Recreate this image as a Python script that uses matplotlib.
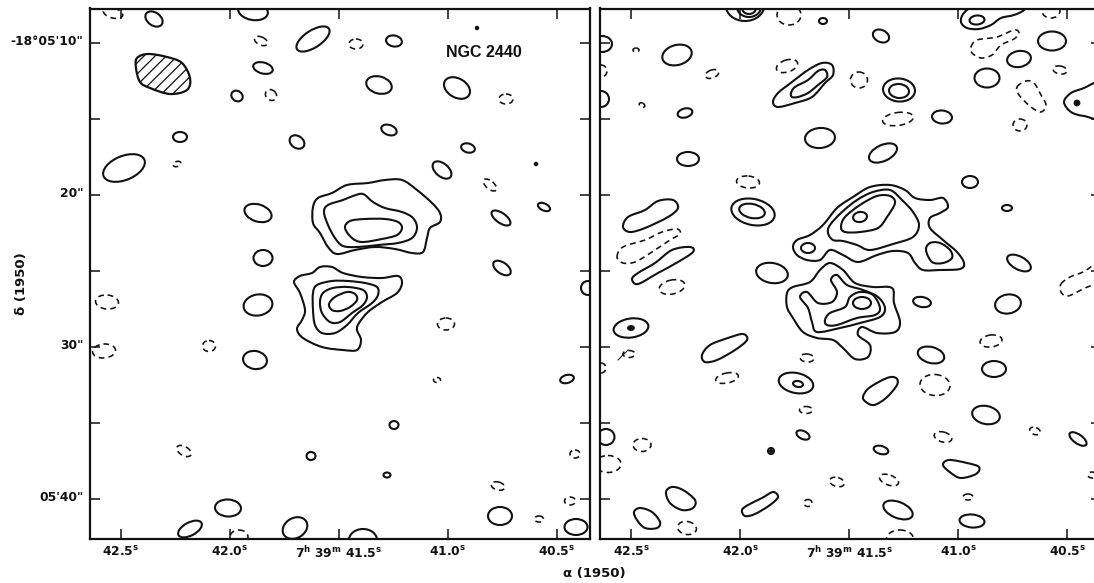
import numpy as np
import matplotlib
matplotlib.use("Agg")
import matplotlib.pyplot as plt
from matplotlib.path import Path
from matplotlib.patches import PathPatch
from matplotlib.transforms import Affine2D, ScaledTranslation

# Chart values: axis ticks
RA_TICKS = [42.5, 42.0, 41.5, 41.0, 40.5]
RA_LABELS = [r"42.5$^{\mathbf{s}}$", r"42.0$^{\mathbf{s}}$", r"7$^{\mathbf{h}}$ 39$^{\mathbf{m}}$ 41.5$^{\mathbf{s}}$",
             r"41.0$^{\mathbf{s}}$", r"40.5$^{\mathbf{s}}$"]
DEC_TICKS = [10, 15, 20, 25, 30, 35, 40]
DEC_LABELS = ['-18°05\'10"', '', '20"', '', '30"', '', '05\'40"']

L_SOLID = [(154,19,9.5,6.5,-35),(253,11,15,9,-10),(313,39,19,8.5,33),(263,68,10,5.5,-15),(237,96,6,5,-35),
           (180,137,7,5,0),(297,142,8,6,-35),(124,168,22,12,22),(258,213,14,8.5,-18),(263,258,9.5,8,0),
           (394,41,8,5.5,-10),(379,85,13,8.5,-15),(457,88,14,9.5,-30),(389,130,8,5,-20),(468,148,7,4.5,-15),
           (442,170,11,6.5,-40),(544,207,6.5,3.5,-25),(501,218,11,5,-35),(502,268,10,5.5,-35),(588,288,7,7,0),
           (258,305,14.5,10.5,10),(255,360,12,9,-10),(311,456,4.5,4,0),(228,508,13,8.5,-3),(190,529,13,6.5,28),
           (295,528,13,10,30),(567,379,7,4,15),(394,425,4.5,4,0),(387,475,3.5,2.5,0),(500,516,12,9,0),
           (576,527,11.5,8,0),(363,540,14,11,0),(536,164,1.2,1.2,0),(477,28,1.2,1.2,0)]
L_DASHED = [(113,13,10,5,-15),(261,41,7,4,-25),(271,95,6,5,-40),(177,164,4,2.5,20),(356,44,7,5,0),
            (506,99,7,5,0),(490,185,8,4,-40),(107,302,11.5,7,-5),(104,351,11.5,7,5),(209,346,6.5,5.5,0),
            (184,451,8,4.5,-30),(239,537,9,7,0),(446,324,8.5,6,0),(437,380,3.5,2.5,0),(575,454,5,4,0),
            (498,486,7,4,-15),(570,501,5.5,4,0),(539,519,4.5,3,0)]
L_OUTLINES = [
    [(313,207),(318,198),(332,193),(347,185),(368,183),(385,180),(402,180),(417,190),(432,203),(440,213),(440,222),
     (430,228),(427,238),(423,252),(412,253),(395,249),(375,247),(355,250),(337,254),(328,247),(320,233),(313,223)],
    [(324,212),(328,205),(343,200),(353,196),(363,194),(373,202),(385,208),(402,212),(413,218),(417,228),(412,238),
     (398,243),(378,245),(358,247),(343,246),(335,238),(328,225)],
    [(345,228),(350,221),(365,219),(385,219),(398,222),(402,228),(397,235),(382,239),(362,242),(352,238)],
    [(294,282),(300,276),(312,273),(320,267),(332,267),(343,273),(362,277),(382,278),(398,276),(402,283),(397,293),
     (382,302),(368,312),(359,323),(357,330),(361,340),(357,350),(343,350),(322,347),(303,338),(297,329),(302,320),
     (305,310),(300,293)],
    [(313,293),(317,285),(332,281),(348,281),(365,283),(377,287),(378,295),(372,303),(358,313),(347,325),(335,333),
     (322,333),(315,325),(313,310)],
    [(320,302),(323,293),(333,288),(348,287),(363,290),(367,297),(363,305),(352,313),(340,322),(330,322),(322,313)],
    [(329,304),(335,297),(347,292),(355,294),(357,300),(350,307),(340,311),(332,310)],
]
BEAM = [(137,58),(148,54),(167,57),(182,63),(190,78),(187,90),(170,94),(150,88),(140,82),(136,68)]

R_SOLID = [(745,6,19,15,0),(749,7,12,10,0),(749,8,7,6,0),(823,21,4,3,0),(602,44,10,8,0),(601,99,8,8,0),
           (677,55,15,10,15),(685,113,7.5,4.5,15),(688,159,11,7,0),(820,138,15,10,5),(753,212,22,13,-12),
           (752,211,13,7,-12),(772,273,16,10,-10),(631,328,17.5,9.5,8),(796,383,17.5,10,-12),(798,384,5,3,-10),
           (803,435,7,4,-25),(771,451,3,3,0),(606,437,8.5,8,0),(881,36,8.5,6,-25),(899,90,16,11.5,-5),(899,91,10,7,-5),
           (942,117,10,6.5,-5),(883,153,15,8,25),(977,20,7.5,4.5,5),(1052,41,14,9.5,0),(1019,59,12,8,10),(987,78,12.5,9.5,0),
           (970,182,8,6,0),(1007,208,5,3,0),(1019,263,13,6.5,-28),(922,302,9,5,-10),(1008,304,13,9.5,10),
           (931,355,13.5,8,-15),(994,369,12,8,0),(986,415,14,9,-12),(1078,439,10,4.5,-35),(881,450,7.5,4,-15),
           (898,510,15.5,8,-22),(972,521,12.5,6.5,-5),(808,248,7,5,0),(860,217,7,5,10),(862,303,9,6,0)]
R_DASHED = [(789,15,12,10,0),(601,71,6,6,0),(636,50,3,2,0),(642,105,3,2,-30),(712,74,7,4,20),(787,66,11,6,18),
            (748,182,11.5,6,-5),(672,287,13,7,12),(629,354,6,3.5,0),(601,368,5,5,0),(727,378,11.5,5,12),
            (807,358,7,4,-5),(806,410,6.5,3.5,0),(642,445,9,6.5,0),(608,464,13,8.5,0),(837,482,7.5,4.5,-15),
            (687,528,9.5,6.5,-10),(808,503,4,3.5,0),(859,80,8.5,8,0),(898,119,15.5,6.5,8),(1051,11,9,7,0),
            (1060,70,7,4,-10),(1020,125,7,6,0),(991,341,11,6,8),(935,385,15,10.5,-5),(1035,431,5.5,3.5,-20),
            (943,437,9,5,-15),(889,480,10,5,-20),(968,497,5,3,0),(900,539,13.5,9,0),(1092,475,4,3,0)]
R_SOLID_OUT = [
    [(773,102),(778,93),(792,82),(808,70),(822,63),(832,65),(833,75),(825,83),(812,97),(795,103),(778,107)],
    [(791,93),(795,87),(808,80),(818,71),(825,70),(827,77),(818,85),(808,93),(798,97),(792,97)],
    [(623,227),(628,217),(645,210),(658,201),(673,200),(678,208),(668,217),(645,228),(630,232)],
    [(632,279),(638,273),(655,263),(672,250),(690,247),(693,252),(678,262),(658,273),(638,284)],
    [(702,355),(710,345),(728,338),(743,334),(747,340),(735,350),(717,360),(705,362)],
    [(666,492),(672,487),(683,490),(695,500),(693,508),(682,510),(670,503)],
    [(634,512),(640,508),(652,512),(660,522),(657,528),(645,528),(637,520)],
    [(742,510),(748,505),(762,498),(773,492),(778,497),(770,505),(755,514),(745,516)],
    [(964,13),(977,6),(1024,4),(1024,10),(1014,15),(1001,18),(991,25),(979,29),(967,28),(961,22)],
    [(1064,102),(1071,93),(1084,88),(1094,83),(1104,80),(1104,117),(1084,116),(1071,112)],
    [(863,397),(869,388),(887,378),(896,378),(897,385),(886,398),(874,405),(866,402)],
    [(943,465),(949,460),(967,463),(979,467),(976,474),(961,478),(951,473)],
    [(793,247),(797,240),(810,235),(823,225),(837,208),(853,197),(870,187),(890,185),(905,190),(915,198),(930,200),
     (943,198),(948,207),(940,213),(930,218),(930,228),(943,240),(957,252),(964,263),(960,269),(940,270),(923,270),
     (915,263),(908,253),(893,251),(877,255),(858,262),(843,255),(830,250),(820,260),(807,260),(797,255)],
    [(926,250),(930,243),(940,243),(950,250),(952,258),(943,263),(932,262)],
    [(828,233),(830,225),(842,212),(857,200),(873,192),(890,190),(902,200),(913,212),(919,225),(913,237),(893,244),
     (870,250),(857,245),(843,241),(833,240)],
    [(841,227),(845,217),(860,205),(877,196),(890,196),(895,203),(887,217),(878,228),(860,232),(845,232)],
    [(787,293),(793,287),(810,282),(820,270),(830,263),(843,270),(855,283),(873,287),(892,288),(894,303),(900,322),
     (895,332),(877,333),(862,327),(858,335),(870,345),(868,357),(855,359),(843,348),(833,340),(817,338),(803,332),
     (793,318),(787,307)],
    [(800,297),(807,292),(818,303),(832,302),(837,292),(831,280),(837,275),(847,285),(863,290),(878,297),(885,308),
     (880,317),(860,323),(840,328),(817,332),(812,322),(808,308)],
    [(825,320),(830,313),(845,307),(850,297),(860,292),(873,295),(880,308),(875,315),(857,318),(837,325),(827,325)],
]
R_DASHED_OUT = [
    [(617,257),(623,247),(645,240),(662,232),(677,229),(680,234),(670,240),(652,252),(635,262),(623,263)],
    [(971,47),(977,40),(997,37),(1014,30),(1019,33),(1014,39),(1001,45),(992,55),(981,58),(972,53)],
    [(1017,87),(1026,81),(1034,83),(1041,95),(1046,105),(1041,112),(1031,107),(1019,95)],
    [(1061,284),(1070,277),(1083,272),(1094,265),(1102,262),(1102,280),(1085,288),(1068,296),(1061,292)],
]
R_FILLED = [(631,328,3.5,2.5,0),(1077,103,3,3,0),(771,451,1.5,1.5,0)]
R_STRAY = [(618,360),(628,350)]

plt.rcParams["font.family"] = "DejaVu Sans"
plt.rcParams["mathtext.fontset"] = "dejavusans"
plt.rcParams["hatch.linewidth"] = 0.9
INK = "#111111"
W, H = 1094, 583
fig = plt.figure(figsize=(W / 100, H / 100), dpi=100, facecolor="white")

SPAN = 500.5
TOP, BOT = 8.5, 539.0


def smooth(points):
    p = np.asarray(points, float)
    n = len(p)
    verts = [p[0]]
    codes = [Path.MOVETO]
    for i in range(n):
        p0, p1, p2, p3 = p[i - 1], p[i], p[(i + 1) % n], p[(i + 2) % n]
        verts += [p1 + (p2 - p0) / 6, p2 - (p3 - p1) / 6, p2]
        codes += [Path.CURVE4] * 3
    return Path(verts, codes)


def oval(b):
    cx, cy, a, c, tilt = b
    return Path.unit_circle().transformed(Affine2D().scale(a, c).rotate_deg(-tilt).translate(cx, cy))


def panel(left, solid, dashed, outlines, dashed_out, filled=(), labels_y=False):
    ax = fig.add_axes([left / W, 1 - BOT / H, SPAN / W, (BOT - TOP) / H])
    x0 = left + 31.4
    # plate -> sky calibration: 218 plate units per second of RA, 15.2 per arcsec of Dec
    to_sky = Affine2D().translate(-x0, -42.7).scale(-1 / 218, 1 / 15.2).translate(42.5, 10)
    ax.set_xlim(42.5 + 31.4 / 218, 42.5 - (SPAN - 31.4) / 218)
    ax.set_ylim(10 + (BOT - 42.7) / 15.2, 10 + (TOP - 42.7) / 15.2)

    def add(path, **kw):
        ax.add_patch(PathPatch(path.transformed(to_sky), **kw))

    solid_kw = dict(fill=False, ec=INK, lw=1.5)
    dash_kw = dict(fill=False, ec=INK, lw=1.15, ls=(0, (3.6, 2.6)))
    for b in solid:
        add(oval(b), **solid_kw)
    for b in dashed:
        add(oval(b), **dash_kw)
    for o in outlines:
        add(smooth(o), **solid_kw)
    for o in dashed_out:
        add(smooth(o), **dash_kw)
    for b in filled:
        add(oval(b), fc=INK, ec=INK, lw=0.6)

    ax.set_xticks(RA_TICKS)
    ax.set_xticklabels(RA_LABELS, fontsize=8.8, fontweight="bold", color=INK)
    ax.set_yticks(DEC_TICKS)
    ax.tick_params(axis="both", which="major", direction="in", length=7.2, width=1.1,
                   top=True, right=True, color=INK, pad=4.5)
    if labels_y:
        ax.set_yticklabels(DEC_LABELS, fontsize=8.8, fontweight="bold", color=INK)
        shift = ScaledTranslation(0, 3 / 100, fig.dpi_scale_trans)
        for t in ax.get_yticklabels():
            t.set_transform(t.get_transform() + shift)
    else:
        ax.set_yticklabels([])
    for s in ax.spines.values():
        s.set_linewidth(1.6)
        s.set_color(INK)
    return ax, to_sky


axL, skyL = panel(89.5, L_SOLID, L_DASHED, L_OUTLINES, [], labels_y=True)
axR, skyR = panel(600.0, R_SOLID, R_DASHED, R_SOLID_OUT, R_DASHED_OUT, R_FILLED)

stray = skyR.transform(np.array(R_STRAY, float))
axR.plot(stray[:, 0], stray[:, 1], color=INK, lw=0.7)

axL.add_patch(PathPatch(smooth(BEAM).transformed(skyL), fc="white", ec=INK, lw=1.6, hatch="///"))
axL.text(0.788, 0.918, "NGC 2440", transform=axL.transAxes, ha="center", va="center",
         fontsize=11.5, fontweight="bold", family="Liberation Sans", color=INK)

fig.text(594 / W, 1 - 573 / H, "α (1950)", ha="center", va="center", fontsize=9.5, fontweight="bold", color=INK)
fig.text(22 / W, 1 - 284 / H, "δ (1950)", ha="center", va="center", rotation=90, fontsize=9.5,
         fontweight="bold", color=INK)

fig.savefig("out.png", dpi=100, facecolor="white")
